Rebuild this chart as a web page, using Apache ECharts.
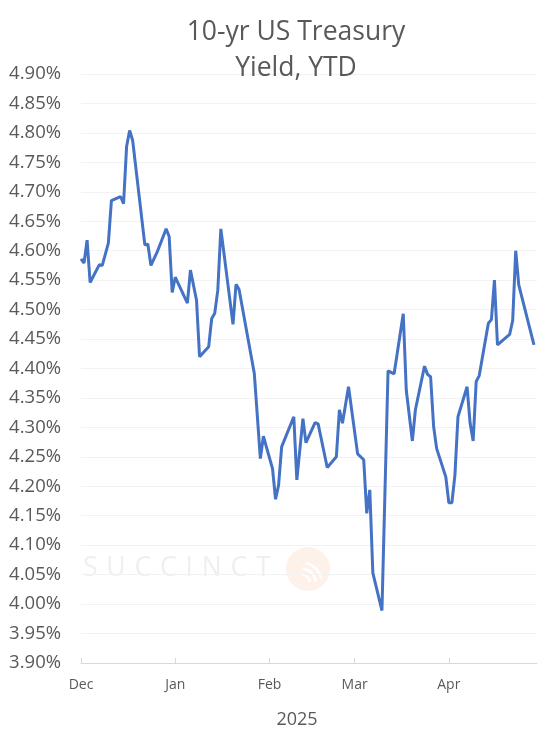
<!DOCTYPE html>
<html>
<head>
<meta charset="utf-8">
<script src="https://cdn.jsdelivr.net/npm/echarts@6/dist/echarts.min.js"></script>
<style>
html,body{margin:0;padding:0;background:#fff;}
#chart{width:549px;height:732px;}
</style>
</head>
<body>
<div id="chart"></div>
<script>
// Dates of the plotted points
var dates = [
  '2024-12-01','2024-12-02','2024-12-03','2024-12-04','2024-12-07','2024-12-08','2024-12-10','2024-12-11',
  '2024-12-14','2024-12-15','2024-12-16','2024-12-17','2024-12-18','2024-12-22','2024-12-23','2024-12-24',
  '2024-12-26','2024-12-29','2024-12-30','2024-12-31','2025-01-01','2025-01-05','2025-01-06','2025-01-08',
  '2025-01-09','2025-01-12','2025-01-13','2025-01-14','2025-01-15','2025-01-16','2025-01-20','2025-01-21',
  '2025-01-22','2025-01-27','2025-01-29','2025-01-30','2025-02-02','2025-02-03','2025-02-04','2025-02-05',
  '2025-02-09','2025-02-10','2025-02-12','2025-02-13','2025-02-16','2025-02-17','2025-02-20','2025-02-23',
  '2025-02-24','2025-02-25','2025-02-27','2025-03-02','2025-03-04','2025-03-05','2025-03-06','2025-03-07',
  '2025-03-10','2025-03-12','2025-03-14','2025-03-17','2025-03-18','2025-03-20','2025-03-21','2025-03-24',
  '2025-03-25','2025-03-26','2025-03-27','2025-03-28','2025-03-31','2025-04-01','2025-04-02','2025-04-03',
  '2025-04-04','2025-04-07','2025-04-08','2025-04-09','2025-04-10','2025-04-11','2025-04-14','2025-04-15',
  '2025-04-16','2025-04-17','2025-04-21','2025-04-22','2025-04-23','2025-04-24','2025-04-29'
];
// 10-yr yield, %
var yields = [
  4.586,4.579,4.618,4.546,4.576,4.575,4.613,4.685,
  4.692,4.680,4.777,4.804,4.787,4.610,4.611,4.575,
  4.597,4.637,4.624,4.529,4.555,4.511,4.567,4.516,
  4.420,4.437,4.485,4.494,4.533,4.637,4.475,4.543,
  4.534,4.392,4.247,4.285,4.230,4.178,4.202,4.267,
  4.318,4.211,4.315,4.274,4.308,4.306,4.232,4.250,
  4.330,4.307,4.369,4.255,4.245,4.154,4.194,4.053,
  3.989,4.396,4.391,4.493,4.363,4.277,4.330,4.404,
  4.390,4.386,4.301,4.264,4.216,4.172,4.172,4.219,
  4.318,4.369,4.307,4.277,4.378,4.388,4.477,4.483,
  4.550,4.440,4.458,4.481,4.600,4.542,4.440
];
var monthNames = ['Jan','Feb','Mar','Apr','May','Jun','Jul','Aug','Sep','Oct','Nov','Dec'];
var xMin = '2024-12-01', xMax = '2025-04-30';
var yMin = 3.90, yMax = 4.90, yStep = 0.05;
var titleText = '10-yr US Treasury\nYield, YTD';
var xName = '2025';
var watermark = 'S\u2004U\u2004C\u2004C\u2004I\u2004N\u2004C\u2004T';

var seriesData = dates.map(function(d, i){ return [d, yields[i]]; });
var font = 'Open Sans';
var chart = echarts.init(document.getElementById('chart'), null, {renderer:'canvas'});
chart.setOption({
  backgroundColor:'#ffffff',
  animation:false,
  title:{
    text: titleText, left: 291, top: 9, textAlign:'center',
    textStyle:{fontFamily:font, fontSize:26.5, fontWeight:'normal', color:'#595959', lineHeight:36}
  },
  grid:{left:81, right:12, top:74, bottom:69, containLabel:false, outerBoundsMode:'none'},
  graphic:[
    {type:'text', left:83, top:555, silent:true, z:-1,
     style:{text:watermark, fontFamily:font, fontSize:26.5, fill:'#efefef'}},
    {type:'circle', shape:{cx:308, cy:569, r:22}, silent:true, z:-1,
     style:{fill:'#fdf1e9'}},
    {type:'arc', shape:{cx:300, cy:584, r:10, startAngle:-Math.PI*0.45, endAngle:-Math.PI*0.05}, silent:true, z:-1,
     style:{stroke:'#ffffff', lineWidth:2.5, fill:null}},
    {type:'arc', shape:{cx:300, cy:584, r:16, startAngle:-Math.PI*0.45, endAngle:-Math.PI*0.05}, silent:true, z:-1,
     style:{stroke:'#ffffff', lineWidth:2.5, fill:null}},
    {type:'arc', shape:{cx:300, cy:584, r:22, startAngle:-Math.PI*0.42, endAngle:-Math.PI*0.08}, silent:true, z:-1,
     style:{stroke:'#ffffff', lineWidth:2.5, fill:null}}
  ],
  xAxis:{
    type:'time', min:xMin, max:xMax,
    minInterval: 28*86400000, maxInterval: 31*86400000,
    name: xName, nameLocation:'middle', nameGap:48,
    nameTextStyle:{fontFamily:font, fontSize:18, color:'#595959', padding:[0,24,0,0]},
    axisLine:{show:true, lineStyle:{color:'#d9d9d9', width:1}},
    axisTick:{show:true, inside:true, length:5, lineStyle:{color:'#d9d9d9'}},
    axisLabel:{fontFamily:font, fontSize:14, color:'#595959', margin:15, alignMinLabel:'center',
      formatter:function(v){ return monthNames[new Date(v).getMonth()]; }},
    splitLine:{show:false}
  },
  yAxis:{
    type:'value', min:yMin, max:yMax, interval:yStep,
    axisLine:{show:false}, axisTick:{show:false},
    axisLabel:{fontFamily:font, fontSize:18.5, color:'#595959', margin:20,
      formatter:function(v){ return v.toFixed(2)+'%'; }},
    splitLine:{show:true, lineStyle:{color:'#f2f2f2', width:1}}
  },
  series:[{
    type:'line', data:seriesData, showSymbol:false, smooth:false,
    lineStyle:{color:'#4472c4', width:3}, itemStyle:{color:'#4472c4'}
  }]
});
</script>
</body>
</html>
